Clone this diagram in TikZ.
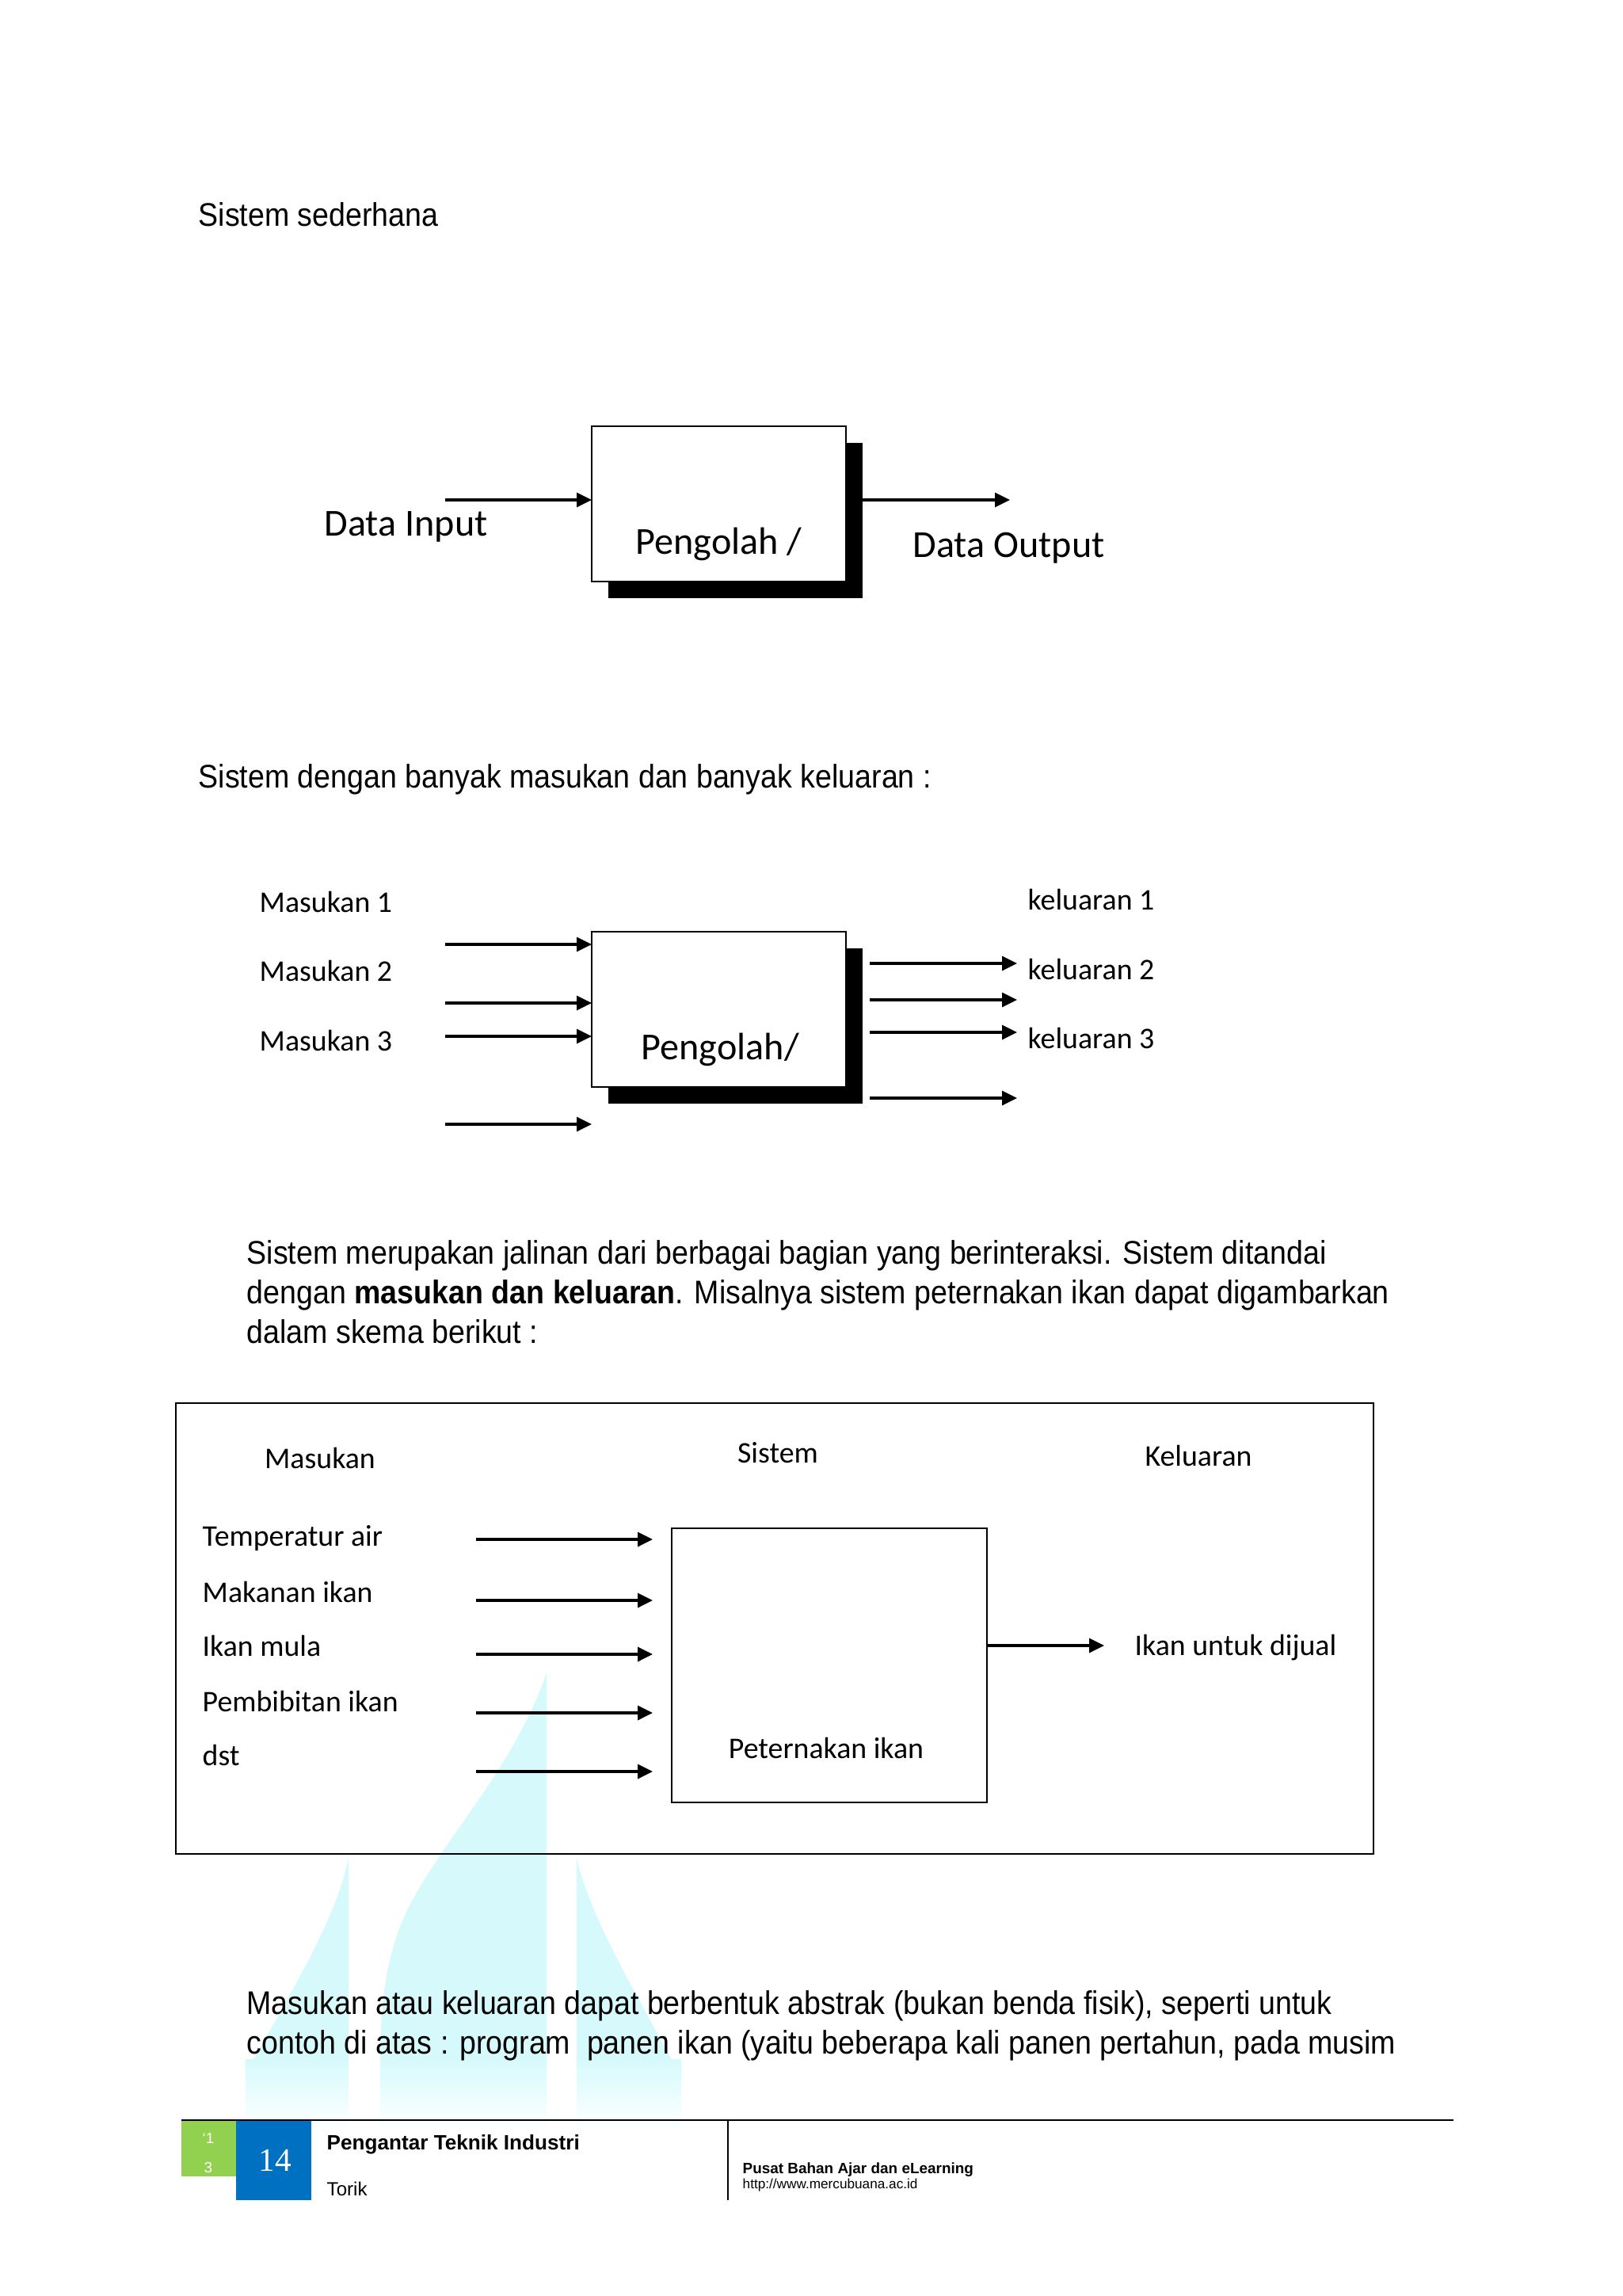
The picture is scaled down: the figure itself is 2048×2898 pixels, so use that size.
\documentclass[tikz,border=0pt]{standalone}
\usepackage{fontspec}
\setmainfont{Liberation Sans}
\newfontfamily\bodyfont[FakeStretch=0.91]{Liberation Sans}
\newfontfamily\calfont{Carlito}
\newfontfamily\serfont{Liberation Serif}
\usetikzlibrary{arrows.meta}
\definecolor{wmcyan}{RGB}{214,250,252}
\definecolor{ftgreen}{RGB}{146,208,80}
\definecolor{ftblue}{RGB}{0,112,192}
\newcommand{\pxu}{0.29066pt}
\begin{document}
\begin{tikzpicture}[x=0.29066pt, y=-0.29066pt,
  arr/.style={-{Triangle[length=5.5pt,width=5.2pt]}, line width=1pt},
  sbox/.style={draw, line width=0.75pt, fill=white, inner sep=0pt, outer sep=0pt},
  shadowbox/.style={fill=black, inner sep=0pt, outer sep=0pt},
  body/.style={font=\bodyfont\fontsize{12}{14}\selectfont, inner sep=0pt, anchor=base west},
  cbig/.style={font=\calfont\fontsize{14}{17}\selectfont, inner sep=0pt, anchor=base west},
  csmall/.style={font=\calfont\fontsize{11}{13}\selectfont, inner sep=0pt, anchor=base west},
  csmallc/.style={font=\calfont\fontsize{11}{13}\selectfont, inner sep=0pt, anchor=base},
  foot/.style={inner sep=0pt, anchor=base west},
]
\useasboundingbox (0,0) rectangle (2048,2898);
\fill[white] (0,0) rectangle (2048,2898);

% ---------- watermark ----------
\fill[wmcyan] (690,2111) .. controls (650,2230) and (560,2320) .. (515,2409)
  .. controls (490,2460) and (480,2520) .. (480,2600) -- (690,2600) -- cycle;
\fill[wmcyan] (440,2345) .. controls (425,2420) and (370,2510) .. (320,2600) -- (440,2600) -- cycle;
\fill[wmcyan] (728,2345) .. controls (745,2420) and (800,2510) .. (848,2600) -- (728,2600) -- cycle;
\shade[top color=wmcyan, bottom color=white] (480,2599) rectangle (690,2690);
\shade[top color=wmcyan, bottom color=white] (310,2599) rectangle (440,2690);
\shade[top color=wmcyan, bottom color=white] (728,2599) rectangle (860,2690);

% ---------- section 1 ----------
\node[body] (h1) at (250,285) {Sistem sederhana};
\node[shadowbox, minimum width=321*\pxu, minimum height=196*\pxu] (sh1) at (928.5,657) {};
\node[sbox, minimum width=321*\pxu, minimum height=196*\pxu] (box1) at (907.5,636) {};
\node[cbig] (p1) at (802,699) {Pengolah /};
\node[cbig] (din) at (409,676) {Data Input};
\node[cbig] (dout) at (1152,703) {Data Output};
\coordinate (in1) at (562,631);
\coordinate (out1) at (1275,631);
\draw[arr] (in1) -- (in1 -| box1.west);
\draw[arr] (sh1.east |- out1) -- (out1);

% ---------- section 2 ----------
\node[body] (h2) at (250,994) {Sistem dengan banyak masukan dan banyak keluaran :};
\node[shadowbox, minimum width=321*\pxu, minimum height=196*\pxu] (sh2) at (928.5,1295) {};
\node[sbox, minimum width=321*\pxu, minimum height=196*\pxu] (box2) at (907.5,1274) {};
\node[cbig] (p2) at (809,1337) {Pengolah/};
\node[csmall] (m1) at (327,1151) {Masukan 1};
\node[csmall] (m2) at (327,1238) {Masukan 2};
\node[csmall] (m3) at (327,1326) {Masukan 3};
\node[csmall] (k1) at (1297,1148) {keluaran 1};
\node[csmall] (k2) at (1297,1236) {keluaran 2};
\node[csmall] (k3) at (1297,1323) {keluaran 3};
\foreach \yy/\nm in {1192/a,1266/b,1308/c,1419/d}{
  \coordinate (ia\nm) at (562,\yy);
  \draw[arr] (ia\nm) -- (ia\nm -| box2.west);
}
\foreach \yy/\nm in {1216/a,1262/b,1303/c,1386/d}{
  \coordinate (os\nm) at (1098,\yy);
  \coordinate (oe\nm) at (1284,\yy);
  \draw[arr] (os\nm) -- (oe\nm);
}

% ---------- paragraph 1 ----------
\node[body] (l1) at (311,1595) {Sistem merupakan jalinan dari berbagai bagian yang berinteraksi. Sistem ditandai};
\node[body] (l2) at (311,1645) {dengan \textbf{masukan dan keluaran}. Misalnya sistem peternakan ikan dapat digambarkan};
\node[body] (l3) at (311,1695) {dalam skema berikut :};

% ---------- section 4 ----------
\node[draw, line width=0.8pt, inner sep=0pt, minimum width=1512*\pxu, minimum height=569*\pxu] (frame) at (978,2055.5) {};
\node[sbox, minimum width=398*\pxu, minimum height=346*\pxu] (farm) at (1047,2102) {};
\node[csmallc] (hm) at (404,1853) {Masukan};
\node[csmallc] (hs) at (982,1846) {Sistem};
\node[csmallc] (hk) at (1513,1850) {Keluaran};
\node[csmall] (t1) at (255,1951) {Temperatur air};
\node[csmall] (t2) at (255,2022) {Makanan ikan};
\node[csmall] (t3) at (255,2090) {Ikan mula};
\node[csmall] (t4) at (255,2160) {Pembibitan ikan};
\node[csmall] (t5) at (255,2228) {dst};
\foreach \yy/\nm in {1943/a,2020/b,2088/c,2162/d,2236/e}{
  \coordinate (fs\nm) at (601,\yy);
  \coordinate (fe\nm) at (824,\yy);
  \draw[arr] (fs\nm) -- (fe\nm);
}
\node[csmallc] (pk) at (1043,2219) {Peternakan ikan};
\node[csmall] (ij) at (1432,2089) {Ikan untuk dijual};
\coordinate (fo) at (1394,2077);
\draw[arr] (farm.east |- fo) -- (fo);

% ---------- paragraph 2 ----------
\node[body] (l4) at (311,2542) {Masukan atau keluaran dapat berbentuk abstrak (bukan benda fisik), seperti untuk};
\node[body] (l5) at (311,2592) {contoh di atas : program\ \ panen ikan (yaitu beberapa kali panen pertahun, pada musim};

% ---------- footer ----------
\fill[ftgreen] (229,2677) rectangle (298,2747);
\fill[ftblue] (298,2677) rectangle (393,2777);
\draw[line width=0.75pt] (229,2676) -- (1835,2676);
\draw[line width=0.5pt] (919,2676) -- (919,2777);
\node[inner sep=0pt, anchor=base, text=white, font=\fontsize{5.5}{6}\selectfont] (g1) at (263,2705) {‘1};
\node[inner sep=0pt, anchor=base, text=white, font=\fontsize{5.5}{6}\selectfont] (g2) at (263,2742) {3};
\node[inner sep=0pt, anchor=base, text=white, font=\serfont\fontsize{12}{14}\selectfont] (pg) at (347,2740) {14};
\node[foot, font=\bfseries\fontsize{7.6}{9}\selectfont] (f1) at (412,2713) {Pengantar Teknik Industri};
\node[foot, font=\fontsize{7}{8}\selectfont] (f2) at (412,2771) {Torik};
\node[foot, font=\bfseries\fontsize{5.5}{6}\selectfont] (f3) at (937,2743) {Pusat Bahan Ajar dan eLearning};
\node[foot, font=\fontsize{5}{6}\selectfont] (f4) at (937,2762) {http://www.mercubuana.ac.id};
\end{tikzpicture}
\end{document}
